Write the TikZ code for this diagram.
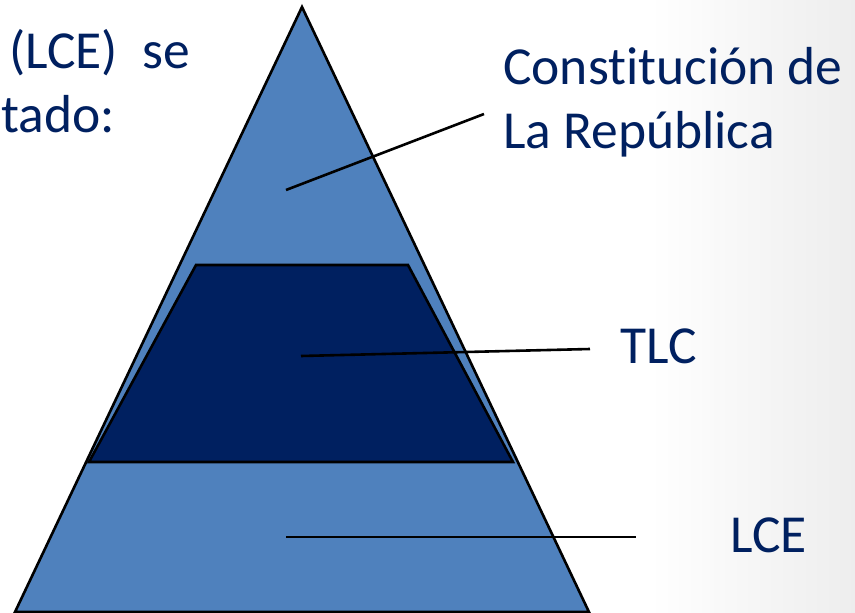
\documentclass[tikz,border=0pt]{standalone}
\usepackage{fontspec}
\setmainfont{Carlito}[Ligatures={NoCommon,NoContextual},RawFeature={-liga;-clig;-calt;-dlig}]
\definecolor{tri}{HTML}{4F81BD}
\definecolor{navy}{HTML}{002060}
\begin{document}
\begin{tikzpicture}[x=1pt,y=-1pt,
  lbl/.style={anchor=base west,inner sep=0pt,text=navy,font=\fontsize{53.5}{64}\selectfont},
  shapeline/.style={draw=black,line width=2.6pt,line join=miter},
  leader/.style={draw=black,line width=2.6pt}]
\useasboundingbox (0,0) rectangle (855,613);
\fill[white] (0,0) rectangle (855,613);
\shade[left color=white,right color=black!7] (650,0) rectangle (855,613);
% pyramid
\coordinate (apex) at (302,7);
\coordinate (bl) at (15,612);
\coordinate (br) at (589,612);
\path[shapeline,fill=tri] (apex) -- (br) -- (bl) -- cycle;
\coordinate (tl) at (196,265);
\coordinate (tr) at (408,265);
\coordinate (tbr) at (513,462);
\coordinate (tbl) at (89,462);
\path[shapeline,fill=navy] (tl) -- (tr) -- (tbr) -- (tbl) -- cycle;
% texts
\node[lbl] (t1) at (9,68) {(LCE)~ se};
\node[lbl] (t2) at (1,132) {tado:};
\node[lbl] (c1) at (503,84) {Constitución de};
\node[lbl] (c2) at (503,148) {La República};
\node[lbl] (tlc) at (620,363) {TLC};
\node[lbl] (lce) at (730,552) {LCE};
% leaders
\coordinate (a1) at (286,190);
\coordinate (a2) at (484,114);
\coordinate (b1) at (301,356);
\coordinate (b2) at (590,349);
\coordinate (d1) at (286,537);
\coordinate (d2) at (636,537);
\draw[leader] (a1) -- (a2);
\draw[leader] (b1) -- (b2);
\draw[leader] (d1) -- (d2);
\end{tikzpicture}
\end{document}
